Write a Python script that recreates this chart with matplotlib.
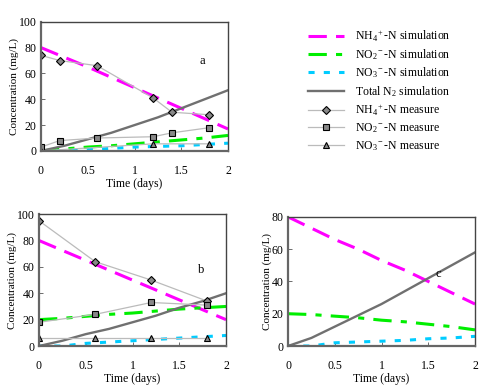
import matplotlib
matplotlib.use("Agg")
import matplotlib.pyplot as plt
import numpy as np

plt.rcParams['font.family'] = ['Liberation Serif', 'DejaVu Serif']
plt.rcParams['mathtext.fontset'] = 'custom'
plt.rcParams['mathtext.rm'] = 'Liberation Serif'
plt.rcParams['mathtext.it'] = 'Liberation Serif:italic'
plt.rcParams['font.size'] = 8

# simulation time grid (days)
t_sim = [0, 0.25, 0.5, 0.75, 1.0, 1.25, 1.5, 1.75, 2.0]

# panel a
a_nh4_sim = [80, 72.5, 65, 57, 49, 41, 33, 25, 17]
a_no2_sim = [0, 1.5, 3, 4, 5.5, 7, 8.5, 10, 12]
a_no3_sim = [0, 0, 1, 2, 3, 3.5, 4, 5, 6]
a_n2_sim = [0, 4, 9, 14, 20, 26, 33, 40, 47]
a_t_meas = [0, 0.2, 0.6, 1.2, 1.4, 1.8]
a_nh4_meas = [74, 70, 66, 41, 30, 28]
a_no2_meas = [3, 8, 10, 11, 14, 18]
a_t_no3 = [0, 1.2, 1.8]
a_no3_meas = [0, 5.5, 5.5]

# panel b
b_nh4_sim = [80, 72.5, 65, 57.5, 50, 42.5, 35, 27.5, 20]
b_no2_sim = [20, 21, 22.5, 24, 25, 26.5, 28, 29, 30]
b_no3_sim = [0, 0, 2, 3, 4, 5, 6, 7, 8]
b_n2_sim = [0, 4, 9, 13, 18, 23, 29, 34, 40]
b_t_meas = [0, 0.6, 1.2, 1.8]
b_nh4_meas = [95, 64, 50, 34]
b_no2_meas = [18, 24, 33, 31]
b_no3_meas = [6, 6, 6, 6]

# panel c
c_nh4_sim = [80, 73, 66, 60, 53, 47, 40, 33, 26]
c_no2_sim = [20, 19.5, 18.5, 17.5, 16, 15, 13.5, 12, 10]
c_no3_sim = [0, 0, 2, 2.5, 3, 3.5, 4.5, 5, 6]
c_n2_sim = [0, 5, 12, 19, 26, 34, 42, 50, 58]

labels = [r'NH$_4$$^+$-N simulation', r'NO$_2$$^-$-N simulation',
          r'NO$_3$$^-$-N simulation', r'Total N$_2$ simulation',
          r'NH$_4$$^+$-N measure', r'NO$_2$$^-$-N measure',
          r'NO$_3$$^-$-N measure']

PINK = '#ff00ff'
GREEN = '#00ee00'
CYAN = '#00ccff'
GREY = '#707070'
LGREY = '#bbbbbb'


def sim_lines(ax, nh4, no2, no3, n2):
    h = []
    h += ax.plot(t_sim, nh4, color=PINK, lw=2.2, dashes=(6, 3))
    h += ax.plot(t_sim, no2, color=GREEN, lw=2.2, dashes=(6, 3, 2, 3))
    h += ax.plot(t_sim, no3, color=CYAN, lw=2.2, dashes=(2, 3))
    h += ax.plot(t_sim, n2, color=GREY, lw=1.7)
    return h


def meas_lines(ax, t, nh4, no2, t3, no3):
    h = []
    h += ax.plot(t, nh4, color=LGREY, lw=0.9, marker='D', ms=4,
                 mfc='#888888', mec='black', mew=0.8)
    h += ax.plot(t, no2, color=LGREY, lw=0.9, marker='s', ms=4.5,
                 mfc='#888888', mec='black', mew=0.8)
    h += ax.plot(t3, no3, color=LGREY, lw=0.9, marker='^', ms=5,
                 mfc='#888888', mec='black', mew=0.8)
    return h


def style(ax, ymax):
    ax.set_xlim(0, 2)
    ax.set_ylim(0, ymax)
    ax.set_xticks([0, 0.5, 1, 1.5, 2])
    ax.set_xticklabels(['0', '0.5', '1', '1.5', '2'])
    ax.set_yticks(np.arange(0, ymax + 1, 20))
    ax.tick_params(direction='in', length=3, width=0.6, color='#555555',
                   labelsize=8.5, pad=3)
    ax.tick_params(axis='x', pad=10)
    for s in ['left', 'bottom']:
        ax.spines[s].set_linewidth(1.6)
        ax.spines[s].set_color('#666666')
    for s in ['top', 'right']:
        ax.spines[s].set_linewidth(1.0)
        ax.spines[s].set_color('#444444')
    ax.set_xlabel('Time (days)', labelpad=1, fontsize=8.5)
    ax.set_ylabel('Concentration (mg/L)', labelpad=0, fontsize=8)


fig = plt.figure(figsize=(5, 3.89), dpi=100)

ax_a = fig.add_axes([0.082, 0.612, 0.374, 0.332])
h_sim = sim_lines(ax_a, a_nh4_sim, a_no2_sim, a_no3_sim, a_n2_sim)
h_meas = meas_lines(ax_a, a_t_meas, a_nh4_meas, a_no2_meas, a_t_no3, a_no3_meas)
style(ax_a, 100)
ax_a.text(1.69, 67, 'a', fontsize=9)

ax_b = fig.add_axes([0.078, 0.1105, 0.374, 0.339])
sim_lines(ax_b, b_nh4_sim, b_no2_sim, b_no3_sim, b_n2_sim)
meas_lines(ax_b, b_t_meas, b_nh4_meas, b_no2_meas, b_t_meas, b_no3_meas)
style(ax_b, 100)
ax_b.text(1.70, 55, 'b', fontsize=9)

ax_c = fig.add_axes([0.576, 0.1105, 0.374, 0.332])
sim_lines(ax_c, c_nh4_sim, c_no2_sim, c_no3_sim, c_n2_sim)
style(ax_c, 80)
ax_c.text(1.58, 43, 'c', fontsize=9)

fig.legend(h_sim + h_meas, labels, loc='upper left',
           bbox_to_anchor=(0.595, 0.955), frameon=False,
           handlelength=3.0, labelspacing=0.3, handletextpad=1.0,
           fontsize=8.5)

fig.savefig('out.png', dpi=100)
